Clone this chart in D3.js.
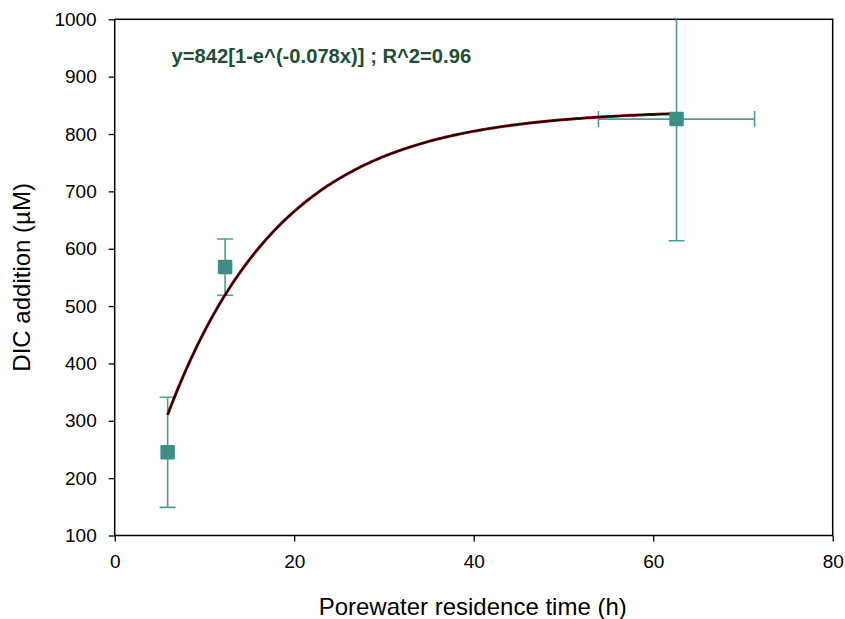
<!DOCTYPE html>
<html>
<head>
<meta charset="utf-8">
<script src="https://cdn.jsdelivr.net/npm/d3@7"></script>
<style>
  html, body { margin: 0; padding: 0; background: #fff; }
  svg { display: block; font-family: "Liberation Sans", Arial, Helvetica, sans-serif; }
</style>
</head>
<body>
<svg id="chart" width="845" height="619"></svg>
<script>
// ---- data ----
const residenceTime = [5.9, 12.3, 62.6];          // h
const dicAddition   = [245, 568, 826];            // µM
const dicError      = [96, 49, 212];              // µM (± vertical)
const timeError     = [0, 0, 8.7];                // h (± horizontal)
const xTicks = [0, 20, 40, 60, 80];
const yTicks = [100, 200, 300, 400, 500, 600, 700, 800, 900, 1000];
const fitA = 842, fitK = 0.078, fitR2 = 0.96;
const equationLabel = "y=842[1-e^(-0.078x)] ; R^2=0.96";
const xLabel = "Porewater residence time (h)";
const yLabel = "DIC addition (µM)";

// ---- layout ----
const svg = d3.select("#chart");
const L = 114.7, R = 832.7, T = 19.3, B = 535.5;
const x = d3.scaleLinear().domain([0, 80]).range([L, R]);
const y = d3.scaleLinear().domain([100, 1000]).range([B, T]);

const markerColor = "#3d8e84";
const errColor = "#4f9d94";

// clip
svg.append("clipPath").attr("id", "plotclip")
  .append("rect").attr("x", L).attr("y", T).attr("width", R - L).attr("height", B - T);

// axes
const xAxis = d3.axisBottom(x).tickValues(xTicks).tickSize(6).tickPadding(13).tickFormat(d3.format("d"));
const yAxis = d3.axisLeft(y).tickValues(yTicks).tickSize(6).tickPadding(12).tickFormat(d3.format("d"));

const gx = svg.append("g").attr("transform", `translate(0,${B})`).call(xAxis);
const gy = svg.append("g").attr("transform", `translate(${L},0)`).call(yAxis);
[gx, gy].forEach(g => {
  g.attr("font-size", null).attr("font-family", null);
  g.select(".domain").remove();
  g.selectAll(".tick line").attr("stroke", "#000").attr("stroke-width", 1.3);
  g.selectAll(".tick text").attr("fill", "#000").style("font-size", "19px")
    .style("font-family", "'Liberation Sans', Arial, sans-serif");
});

// frame
svg.append("rect").attr("x", L).attr("y", T).attr("width", R - L).attr("height", B - T)
  .attr("fill", "none").attr("stroke", "#000").attr("stroke-width", 1.5);

const plot = svg.append("g").attr("clip-path", "url(#plotclip)");

// error bars
const pts = residenceTime.map((t, i) => ({ t, v: dicAddition[i], ev: dicError[i], et: timeError[i] }));
const cap = 8;
pts.forEach(p => {
  const g = plot.append("g").attr("stroke", errColor).attr("stroke-width", 1.6).attr("fill", "none");
  g.append("line").attr("x1", x(p.t)).attr("x2", x(p.t)).attr("y1", y(p.v - p.ev)).attr("y2", y(p.v + p.ev));
  g.append("line").attr("x1", x(p.t) - cap).attr("x2", x(p.t) + cap).attr("y1", y(p.v - p.ev)).attr("y2", y(p.v - p.ev));
  g.append("line").attr("x1", x(p.t) - cap).attr("x2", x(p.t) + cap).attr("y1", y(p.v + p.ev)).attr("y2", y(p.v + p.ev));
  if (p.et > 0) {
    g.append("line").attr("x1", x(p.t - p.et)).attr("x2", x(p.t + p.et)).attr("y1", y(p.v)).attr("y2", y(p.v));
    g.append("line").attr("x1", x(p.t - p.et)).attr("x2", x(p.t - p.et)).attr("y1", y(p.v) - cap).attr("y2", y(p.v) + cap);
    g.append("line").attr("x1", x(p.t + p.et)).attr("x2", x(p.t + p.et)).attr("y1", y(p.v) - cap).attr("y2", y(p.v) + cap);
  }
});

// fit curve
const t0 = d3.min(residenceTime), t1 = d3.max(residenceTime);
const fitPts = d3.range(0, 201).map(i => {
  const tt = t0 + (t1 - t0) * i / 200;
  return [tt, fitA * (1 - Math.exp(-fitK * tt))];
});
const line = d3.line().x(d => x(d[0])).y(d => y(d[1])).curve(d3.curveLinear);
plot.append("path").datum(fitPts).attr("d", line).attr("fill", "none")
  .attr("stroke", "#b01010").attr("stroke-width", 3);
plot.append("path").datum(fitPts).attr("d", line).attr("fill", "none")
  .attr("stroke", "#1a0000").attr("stroke-width", 1.8);

// markers
const ms = 14.5;
plot.selectAll("rect.m").data(pts).enter().append("rect").attr("class", "m")
  .attr("x", d => x(d.t) - ms / 2).attr("y", d => y(d.v) - ms / 2)
  .attr("width", ms).attr("height", ms).attr("rx", 1)
  .attr("fill", markerColor);

// equation
svg.append("text").attr("x", 171.5).attr("y", 63)
  .attr("fill", "#1f4e35").style("font-weight", "bold").style("font-size", "20.2px")
  .text(equationLabel);

// axis titles
svg.append("text").attr("x", (L + R) / 2 - 1).attr("y", 615)
  .attr("text-anchor", "middle").style("font-size", "24px").attr("fill", "#000")
  .text(xLabel);
svg.append("text").attr("transform", `translate(30,${(T + B) / 2}) rotate(-90)`)
  .attr("text-anchor", "middle").style("font-size", "24px").attr("fill", "#000")
  .text(yLabel);
</script>
</body>
</html>
